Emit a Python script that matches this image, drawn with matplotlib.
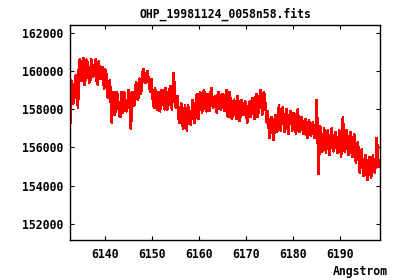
import matplotlib
matplotlib.use("Agg")
import matplotlib.pyplot as plt
import numpy as np

title = "OHP_19981124_0058n58.fits"
x_label = "Angstrom"

# wavelength grid of the spectrum (Angstrom)
wave_start = 6132.6
wave_step = 0.2

# flux at 6132.6, 6133.0, 6133.4, ...
flux_main = [
    157300, 159300, 158600, 159800, 158100, 160600, 159500, 160700, 159600, 160500,
    159400, 160600, 159700, 160400, 159500, 160500, 159600, 160200, 159100, 159900,
    158600, 159500, 157300, 158900, 157900, 158800, 157700, 158900, 157800, 158700,
    157900, 159000, 157000, 158900, 158200, 159400, 158500, 159600, 159300, 160100,
    159400, 160000, 159200, 159600, 158300, 159100, 158000, 158900, 158100, 159000,
    158000, 158900, 158200, 159200, 158000, 159900, 158100, 158700, 157300, 158300,
    157000, 158200, 156900, 158000, 157200, 158500, 157300, 158700, 157500, 158900,
    157800, 159000, 158000, 158800, 157900, 159100, 158100, 158700, 157800, 158900,
    158000, 158800, 157900, 159000, 157600, 158600, 157500, 158500, 157700, 158700,
    157400, 158500, 157700, 158400, 157300, 158300, 157600, 158600, 157500, 158800,
    157800, 159000, 157700, 158900, 157900, 157900, 156500, 157600, 156400, 157700,
    156800, 158200, 156900, 158100, 156800, 158000, 156700, 157900, 156900, 157800,
    156700, 158000, 156800, 157600, 156700, 157500, 156500, 157400, 156600, 157300,
    156500, 158500, 154600, 157100, 155800, 157000, 155700, 156900, 155600, 157000,
    155800, 156800, 155700, 156900, 155500, 157600, 155800, 156900, 155600, 156800,
    155500, 156700, 155200, 156300, 154700, 155900, 154500, 155600, 154300, 155500,
    154400, 155600, 154700, 156500, 155000,
]

flux_mid = [
    159500, 158300, 159600, 158700,
    160300, 159600, 160500, 159300, 160600, 159900,
    159500, 160300, 159800, 160600, 159300, 160100, 159900, 159400,
    160100, 158800,
    159300, 158300,
    158800, 157700, 158900, 158300, 157600, 158600, 158900, 158000, 158300,
    158800, 157600, 158200, 159100,
    158600, 159500, 158800,
    160000, 159400, 159900, 159600, 158900,
    159000, 158100, 158800, 158400, 157900, 159000, 158300,
    159100, 158000, 158800, 158300, 159300, 158700,
    158500, 157600, 158000, 157300, 157700, 157100, 158200, 157500,
    157800, 158300, 157600, 158800,
    158100, 158700, 158300, 158800, 157900, 158500, 158800, 158200, 158600, 158000,
    158900, 158400, 158100, 158700, 158300,
    157700, 158900, 157600, 158000,
    158400, 157500, 158200, 157700, 158300, 157900, 158100, 157500, 158400, 157900,
    158200,
    158600, 157600, 158400, 158900, 157900, 158500,
    157300, 157100, 156900, 157500, 156800, 157200,
    157600, 157200, 158000, 157300, 157700, 157100, 157500, 157800,
    157100, 157600, 157300, 157200, 157500, 157000, 157300, 156900,
    157300, 156800, 157100, 156700, 156900,
    157000, 156000,
    156600, 156100, 156500, 156800, 156200, 156400, 156000, 156600, 156300, 155900,
    156700, 156200, 156500, 156000, 156400, 156200, 155900, 156300, 155600,
    155900, 155300, 155500, 155000, 155300, 154800, 155200, 154900, 155100, 154800,
    155300, 155800,
]

x_ticks = [6140, 6150, 6160, 6170, 6180, 6190]
y_ticks = [152000, 154000, 156000, 158000, 160000, 162000]

flux = np.empty(len(flux_main) + len(flux_mid))
flux[0::2] = flux_main
flux[1::2] = flux_mid
wave = wave_start + wave_step * np.arange(len(flux))

font = {"family": "DejaVu Sans Mono", "weight": "bold", "size": 8.3}

fig = plt.figure(figsize=(4.0, 2.8), dpi=100)
ax = fig.add_axes([70 / 400, 40 / 280, 310 / 400, 215 / 280])
ax.plot(wave, flux, color="#ff0000", linewidth=1.2, antialiased=False)

ax.set_xlim(6132.5, 6198.5)
ax.set_ylim(151150, 162420)
ax.set_xticks(x_ticks)
ax.set_yticks(y_ticks)
ax.set_xticklabels([str(t) for t in x_ticks], fontdict=font)
ax.set_yticklabels([str(t) for t in y_ticks], fontdict=font)
ax.tick_params(direction="in", length=3, width=0.8, top=True, right=True,
               colors="black")
ax.tick_params(axis="x", pad=6)
ax.tick_params(axis="y", pad=5)
for s in ax.spines.values():
    s.set_linewidth(1.0)

fig.text(225 / 400, 1 - 14 / 280, title, ha="center", va="center", fontdict=font)
fig.text(388 / 400, 1 - 271 / 280, x_label, ha="right", va="center", fontdict=font)

fig.savefig("out.png", dpi=100)
plt.close(fig)
